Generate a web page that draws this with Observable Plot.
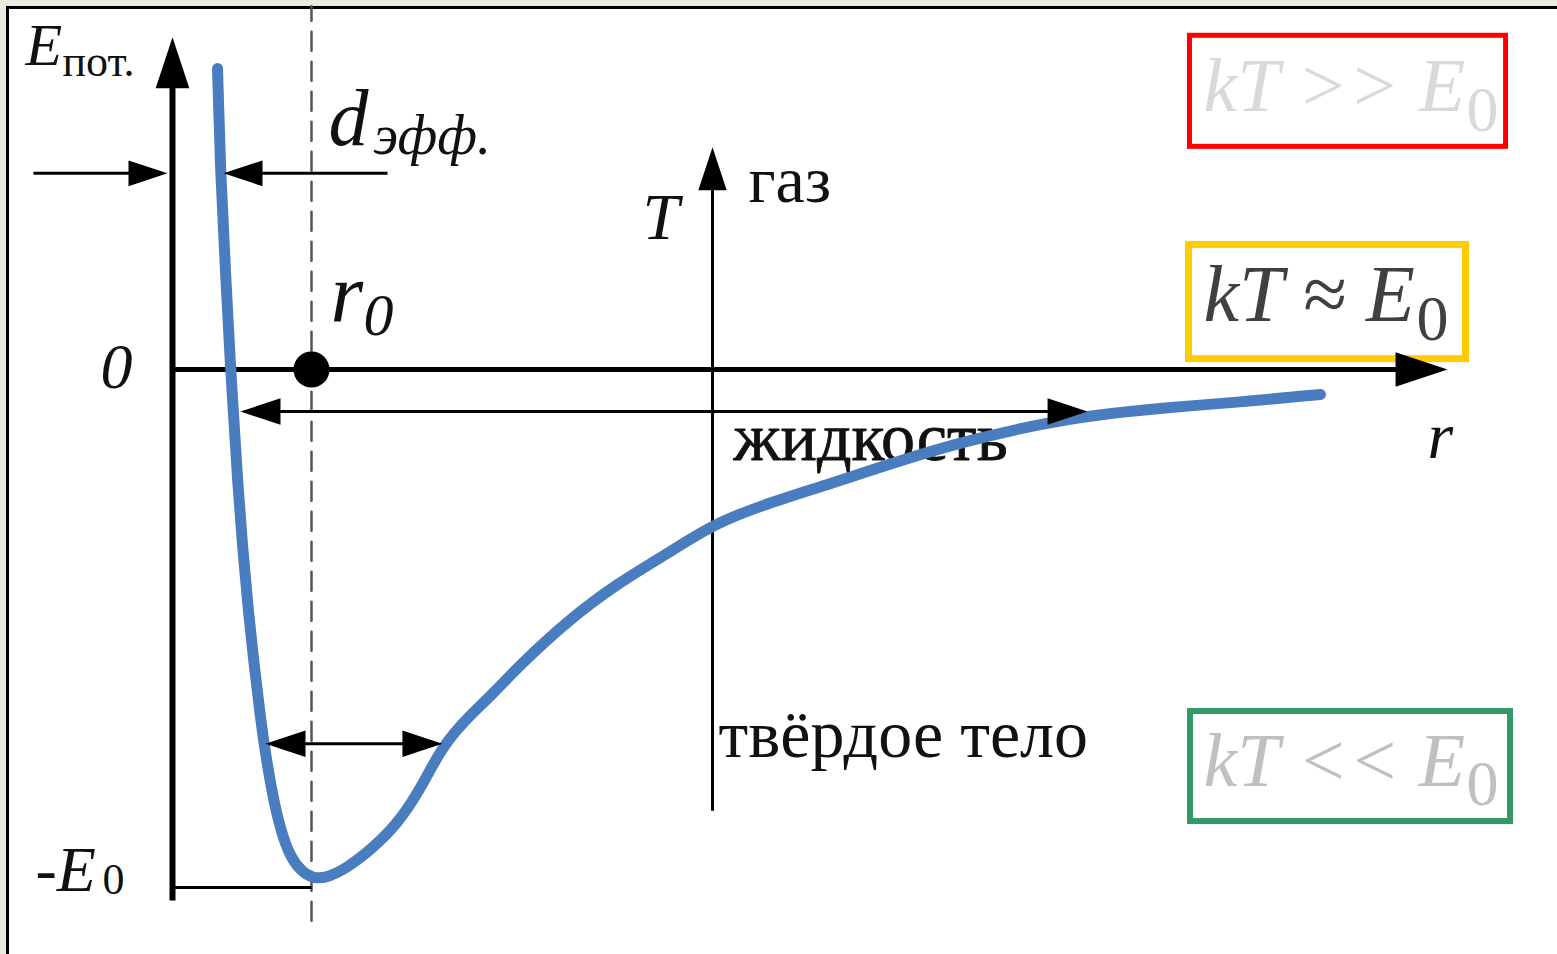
<!DOCTYPE html>
<html>
<head>
<meta charset="utf-8">
<script src="https://cdn.jsdelivr.net/npm/d3@7"></script>
<script src="https://cdn.jsdelivr.net/npm/@observablehq/plot@0.6"></script>
<style>
  html, body { margin: 0; padding: 0; background: #eeebe1; width: 1557px; height: 954px; overflow: hidden; }
  #frame { position: absolute; left: 6px; top: 6px; width: 1551px; height: 948px; background: #fff;
           border-left: 3px solid #000; border-top: 3px solid #000; box-sizing: border-box; }
  #chart { position: absolute; left: 0; top: 0; }
</style>
</head>
<body>
<div id="frame"></div>
<div id="chart"></div>
<script>
// ---- Data (units: r in r0, E in E0) ----
const curveR = [0.324, 0.345, 0.381, 0.417, 0.439, 0.468, 0.504, 0.547, 0.586, 0.629, 0.655, 0.712, 0.777, 0.849, 0.921, 1.007, 1.115, 1.259, 1.446, 1.619, 1.763, 1.878, 1.978, 2.122, 2.309, 2.482, 2.842, 3.201, 3.561, 3.892, 4.302, 4.734, 5.237, 5.719, 6.194, 6.583, 7.158, 7.633, 8.259];
const curveE = [0.580, 0.378, 0.191, 0.004, -0.085, -0.214, -0.343, -0.470, -0.566, -0.662, -0.715, -0.811, -0.888, -0.940, -0.965, -0.981, -0.979, -0.960, -0.921, -0.875, -0.817, -0.759, -0.715, -0.671, -0.624, -0.574, -0.484, -0.412, -0.355, -0.297, -0.256, -0.220, -0.175, -0.137, -0.108, -0.089, -0.073, -0.064, -0.048];

// segments: from (r1,E1) to (r2,E2), stroke width
const segR1 = [0, 0, 0, -1.0, 0.45, 0.55, 0.72, 3.885];
const segE1 = [-1.023, 0, -0.998, 0.378, 0.378, -0.081, -0.721, -0.85];
const segR2 = [0, 8.85, 1.0, -0.10, 1.547, 6.52, 1.88, 3.885];
const segE2 = [0.56, 0, -0.998, 0.378, 0.378, -0.081, -0.721, 0.40];
const segW  = [6, 5, 3, 3, 3, 3, 3, 3];

// arrowheads: tip position, direction (deg), length
const headR = [0, 9.173, 3.885, -0.036, 0.367, 0.489, 6.583, 0.669, 1.942];
const headE = [0.640, 0, 0.428, 0.378, 0.378, -0.081, -0.081, -0.721, -0.721];
const headRot = [0, 90, 0, 90, -90, -90, 90, -90, 90];
const headLen = [51, 52, 43, 39, 39, 40, 40, 40, 40];

// equilibrium point r0
const pointR = [1.0];
const pointE = [0];

// dashed line at r0
const dashR = [1.0, 1.0];
const dashE = [-1.062, 0.70];

// labels
const labelText = ["E", "пот.", "d", "эфф.", "r", "0", "0", "-E", "0", "T", "газ", "жидкость", "твёрдое тело", "r"];
const labelR = [-1.058, -0.791, 1.122, 1.446, 1.137, 1.374, -0.518, -0.986, -0.504, 3.381, 4.144, 4.036, 3.928, 9.029];
const labelE = [0.586, 0.566, 0.432, 0.416, 0.091, 0.066, -0.035, -1.004, -1.010, 0.252, 0.322, -0.175, -0.746, -0.171];
const labelSize = [60, 44, 80, 56, 84, 60, 64, 64, 44, 66, 66, 68, 68, 66];
const labelItalic = [true, false, true, true, true, true, true, true, false, true, false, false, false, true];
const labelBold = [false, false, false, false, false, false, false, false, false, false, false, true, false, false];

// condition boxes
const boxText = ["kT >> E", "kT ≈ E", "kT << E"];
const boxSub = ["0", "0", "0"];
const boxTextColor = ["#d9d9d9", "#404040", "#c0c0c0"];
const boxStroke = ["#ff0000", "#ffcc00", "#339966"];
const boxStrokeW = [5, 7, 6];
const boxFont = [76, 80, 76];
const boxR1 = [7.320, 7.313, 7.324];
const boxR2 = [9.594, 9.306, 9.626];
const boxE1 = [0.429, 0.020, -0.871];
const boxE2 = [0.643, 0.240, -0.659];
const boxTextR = [7.417, 7.417, 7.417];
const boxTextE = [0.499, 0.094, -0.803];
const boxSubR = [9.309, 8.950, 9.309];
const boxSubE = [0.460, 0.056, -0.840];

// ---- Build tables ----
const curve = curveR.map((r, i) => ({r, E: curveE[i]}));
const segs = segR1.map((r1, i) => ({r1, E1: segE1[i], r2: segR2[i], E2: segE2[i], w: segW[i]}));
const heads = headR.map((r, i) => ({r, E: headE[i], rot: headRot[i], len: headLen[i]}));
const labels = labelText.map((t, i) => ({t, r: labelR[i], E: labelE[i], size: labelSize[i], it: labelItalic[i], bold: labelBold[i]}));
const boxes = boxText.map((t, i) => ({t, sub: boxSub[i], color: boxTextColor[i], stroke: boxStroke[i], sw: boxStrokeW[i], fs: boxFont[i],
  r1: boxR1[i], r2: boxR2[i], E1: boxE1[i], E2: boxE2[i], tr: boxTextR[i], tE: boxTextE[i], sr: boxSubR[i], sE: boxSubE[i]}));

const arrowHead = {
  draw(ctx, size) {
    const s = Math.sqrt(size / Math.PI);
    ctx.moveTo(0, 0);
    ctx.lineTo(-0.33 * s, s);
    ctx.lineTo(0.33 * s, s);
    ctx.closePath();
  }
};

const serif = "'Liberation Serif', 'DejaVu Serif', serif";
const W = 1557, H = 954;
const ox = 172, oy = 369, ux = 139, uy = 519;

const marks = [];
// boxes
boxes.forEach(b => {
  marks.push(Plot.rect([b], {x1: "r1", x2: "r2", y1: "E1", y2: "E2", fill: "none", stroke: b.stroke, strokeWidth: b.sw}));
  marks.push(Plot.text([b], {x: "tr", y: "tE", text: "t", fill: b.color, fontFamily: serif, fontStyle: "italic", fontSize: b.fs, textAnchor: "start", lineAnchor: "bottom"}));
  marks.push(Plot.text([b], {x: "sr", y: "sE", text: "sub", fill: b.color, fontFamily: serif, fontSize: 64, textAnchor: "start", lineAnchor: "bottom"}));
});
// dashed r0 line
marks.push(Plot.line(dashR.map((r, i) => ({r, E: dashE[i]})), {x: "r", y: "E", stroke: "#555", strokeWidth: 2.5, strokeDasharray: "19,11"}));
// segments
segs.forEach(s => {
  marks.push(Plot.link([s], {x1: "r1", y1: "E1", x2: "r2", y2: "E2", stroke: "#000", strokeWidth: s.w}));
});
// labels
labels.forEach(l => {
  marks.push(Plot.text([l], {x: "r", y: "E", text: "t", fill: "#111", fontFamily: serif, fontSize: l.size,
    fontStyle: l.it ? "italic" : "normal", textAnchor: "start", lineAnchor: "bottom",
    ...(l.bold ? {stroke: "#111", strokeWidth: 0.8, paintOrder: "normal"} : {})}));
});
// curve
marks.push(Plot.line(curve, {x: "r", y: "E", stroke: "#4a7dbf", strokeWidth: 11, curve: "basis", strokeLinecap: "round", strokeLinejoin: "round"}));
// arrowheads
marks.push(Plot.dot(heads, {x: "r", y: "E", r: "len", rotate: "rot", symbol: arrowHead, fill: "#000", stroke: "none"}));
// r0 point
marks.push(Plot.dot(pointR.map((r, i) => ({r, E: pointE[i]})), {x: "r", y: "E", r: 18, fill: "#000"}));

const chart = Plot.plot({
  width: W, height: H,
  marginTop: 0, marginRight: 0, marginBottom: 0, marginLeft: 0,
  x: {domain: [-ox / ux, (W - ox) / ux], axis: null},
  y: {domain: [-(H - oy) / uy, oy / uy], axis: null},
  r: {type: "identity"},
  style: {background: "transparent", overflow: "visible"},
  marks
});
document.getElementById("chart").appendChild(chart);
</script>
</body>
</html>
